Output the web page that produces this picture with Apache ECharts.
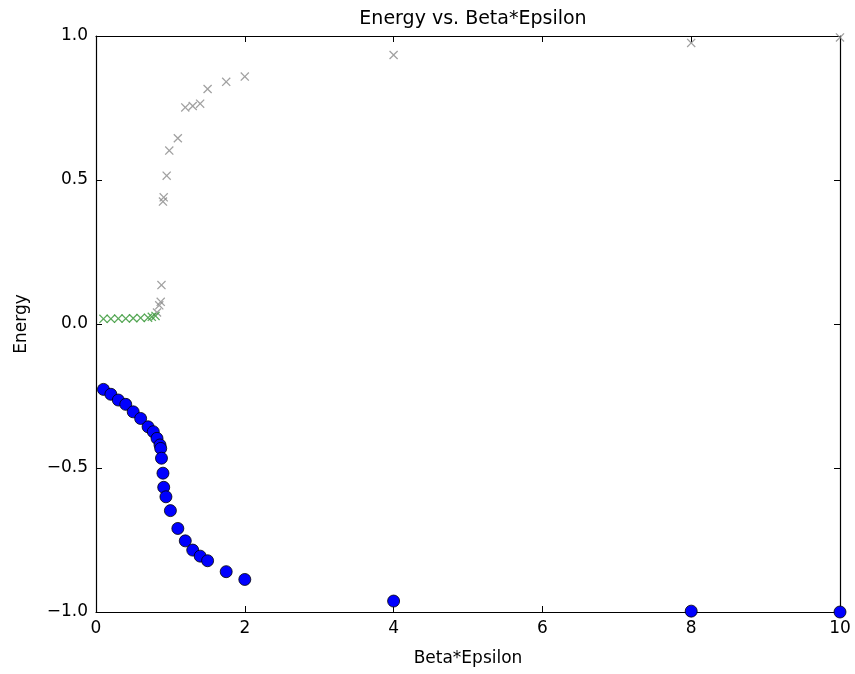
<!DOCTYPE html>
<html><head><meta charset="utf-8">
<script src="https://cdn.jsdelivr.net/npm/echarts@6/dist/echarts.min.js"></script>
<style>html,body{margin:0;padding:0;background:#fff}#c{width:855px;height:674px}</style>
</head><body><div id="c"></div>
<script>
const titleText = 'Energy vs. Beta*Epsilon';
const xName = 'Beta*Epsilon';
const yName = 'Energy';
const xTicks = [0, 2, 4, 6, 8, 10];
const yTicks = [-1.0, -0.5, 0.0, 0.5, 1.0];

// blue circles (lower branch)
const blueX = [0.1, 0.2, 0.3, 0.4, 0.5, 0.6, 0.7, 0.77, 0.82, 0.86, 0.87, 0.88, 0.9, 0.91, 0.94, 1.0, 1.1, 1.2, 1.3, 1.4, 1.5, 1.75, 2.0, 4.0, 8.0, 10.0];
const blueY = [-0.227, -0.244, -0.264, -0.279, -0.305, -0.328, -0.357, -0.374, -0.397, -0.42, -0.432, -0.466, -0.518, -0.567, -0.6, -0.648, -0.71, -0.753, -0.785, -0.806, -0.822, -0.86, -0.887, -0.962, -0.997, -1.0];

// green x markers (near zero)
const greenX = [0.1, 0.2, 0.3, 0.4, 0.5, 0.6, 0.7, 0.75, 0.8];
const greenY = [0.018, 0.018, 0.019, 0.019, 0.02, 0.021, 0.022, 0.025, 0.028];

// gray x markers (upper branch)
const grayX = [0.82, 0.85, 0.87, 0.88, 0.9, 0.91, 0.95, 0.985, 1.1, 1.2, 1.3, 1.4, 1.5, 1.75, 2.0, 4.0, 8.0, 10.0];
const grayY = [0.04, 0.065, 0.077, 0.135, 0.425, 0.44, 0.515, 0.602, 0.645, 0.752, 0.757, 0.765, 0.816, 0.841, 0.859, 0.934, 0.976, 0.995];

const zip = (a, b) => a.map((v, i) => [v, b[i]]);
const xPath = 'path://M0,1L1,0L5,4L9,0L10,1L6,5L10,9L9,10L5,6L1,10L0,9L4,5Z';
const font = 'DejaVu Sans';

const chart = echarts.init(document.getElementById('c'), null, {renderer: 'canvas'});
const axisLineStyle = {onZero: false, lineStyle: {color: '#000', width: 1.2}};
const tickStyle = {inside: true, length: 6, lineStyle: {color: '#000'}};
chart.setOption({
  animation: false,
  backgroundColor: '#fff',
  title: {text: titleText, left: 468, top: 5, textAlign: 'center',
    textStyle: {fontFamily: font, fontSize: 19, fontWeight: 'normal', color: '#000'}},
  grid: {left: 96, right: 15, top: 36, bottom: 62, containLabel: false},
  xAxis: [{
    type: 'value', min: 0, max: 10, interval: 2, position: 'bottom',
    name: xName, nameLocation: 'middle', nameGap: 38,
    nameTextStyle: {fontFamily: font, fontSize: 17, color: '#000'},
    axisLine: axisLineStyle, axisTick: tickStyle,
    axisLabel: {fontFamily: font, fontSize: 17, color: '#000', margin: 8},
    splitLine: {show: false}
  }, {
    type: 'value', min: 0, max: 10, interval: 2, position: 'top',
    axisLine: axisLineStyle, axisTick: tickStyle,
    axisLabel: {show: false}, splitLine: {show: false}
  }],
  yAxis: [{
    type: 'value', min: -1, max: 1, interval: 0.5, position: 'left',
    name: yName, nameLocation: 'middle', nameGap: 66, nameRotate: 90,
    nameTextStyle: {fontFamily: font, fontSize: 17, color: '#000'},
    axisLine: axisLineStyle, axisTick: tickStyle,
    axisLabel: {fontFamily: font, fontSize: 17, color: '#000', margin: 8,
      formatter: v => (v < 0 ? '\u2212' : '') + Math.abs(v).toFixed(1)},
    splitLine: {show: false}
  }, {
    type: 'value', min: -1, max: 1, interval: 0.5, position: 'right',
    axisLine: axisLineStyle, axisTick: tickStyle,
    axisLabel: {show: false}, splitLine: {show: false}
  }],
  series: [{
    type: 'scatter', xAxisIndex: 0, yAxisIndex: 0, data: zip(grayX, grayY),
    symbol: xPath, symbolSize: 9,
    itemStyle: {color: '#8a8a8a', opacity: 0.8}, z: 3
  }, {
    type: 'scatter', xAxisIndex: 0, yAxisIndex: 0, data: zip(greenX, greenY),
    symbol: xPath, symbolSize: 9,
    itemStyle: {color: '#3c9a3c', opacity: 0.85}, z: 3
  }, {
    type: 'scatter', xAxisIndex: 0, yAxisIndex: 0, data: zip(blueX, blueY),
    symbol: 'circle', symbolSize: 12,
    itemStyle: {color: '#0000ff', borderColor: '#000', borderWidth: 0.8, opacity: 1}, z: 4
  }]
});
</script></body></html>
